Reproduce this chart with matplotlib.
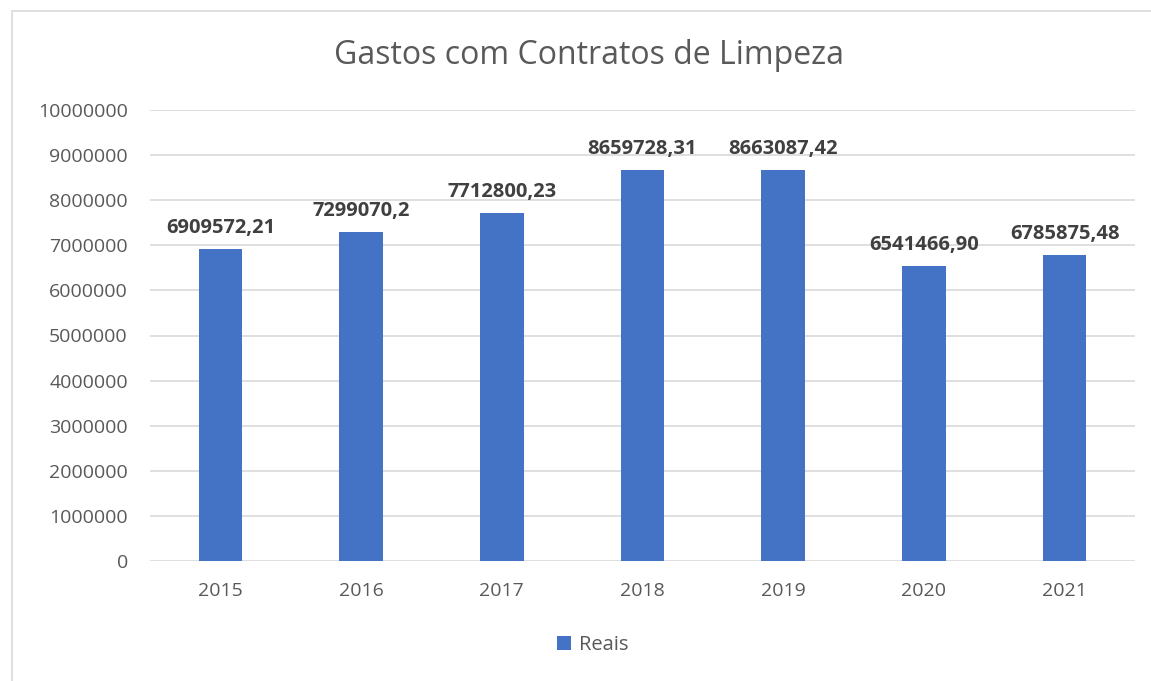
from matplotlib import pyplot as plt
from matplotlib.patches import Rectangle
import numpy as np

years = ['2015', '2016', '2017', '2018', '2019', '2020', '2021']
reais = [6909572.21, 7299070.2, 7712800.23, 8659728.31, 8663087.42, 6541466.90, 6785875.48]
labels = ['6909572,21', '7299070,2', '7712800,23', '8659728,31', '8663087,42', '6541466,90', '6785875,48']
yticks = np.arange(0, 10000001, 1000000)

plt.rcParams['font.family'] = ['Open Sans', 'DejaVu Sans']

fig = plt.figure(figsize=(11.51, 6.81), dpi=100)
# chart frame
fig.patches.append(Rectangle((12/1151, -0.01), 1.02, 1 - 11/681 + 0.01, transform=fig.transFigure,
                             fill=False, edgecolor='#d9d9d9', linewidth=1.2))

ax = fig.add_axes([150/1151, 1 - 561/681, 985/1151, 451/681])
x = np.arange(len(years))
ax.bar(x, reais, width=0.31, color='#4472c4', zorder=3, label='Reais')

for xi, v, lab in zip(x, reais, labels):
    ax.annotate(lab, (xi, v), xytext=(0, 8), textcoords='offset points',
                ha='center', va='bottom', fontsize=14.5, fontweight='bold', color='#404040')

ax.set_xlim(-0.5, len(years) - 0.5)
ax.set_ylim(0, 10000000)
ax.set_yticks(yticks)
ax.set_yticklabels([str(t) for t in yticks])
ax.set_xticks(x)
ax.set_xticklabels(years)
ax.grid(axis='y', color='#d9d9d9', linewidth=1.2, zorder=0)
for s in ax.spines.values():
    s.set_visible(False)
ax.tick_params(axis='both', length=0, labelsize=14, labelcolor='#595959')
ax.tick_params(axis='y', pad=16)
ax.tick_params(axis='x', pad=15)

fig.text(589/1151, 1 - 56/681, 'Gastos com Contratos de Limpeza', ha='center', va='center',
         fontsize=23, color='#595959')

fig.legend(loc='center', bbox_to_anchor=(593/1151, 1 - 645/681), frameon=False,
           fontsize=14.5, labelcolor='#595959', handlelength=0.7, handleheight=0.7,
           handletextpad=0.4)

plt.savefig('out.png', dpi=100)
